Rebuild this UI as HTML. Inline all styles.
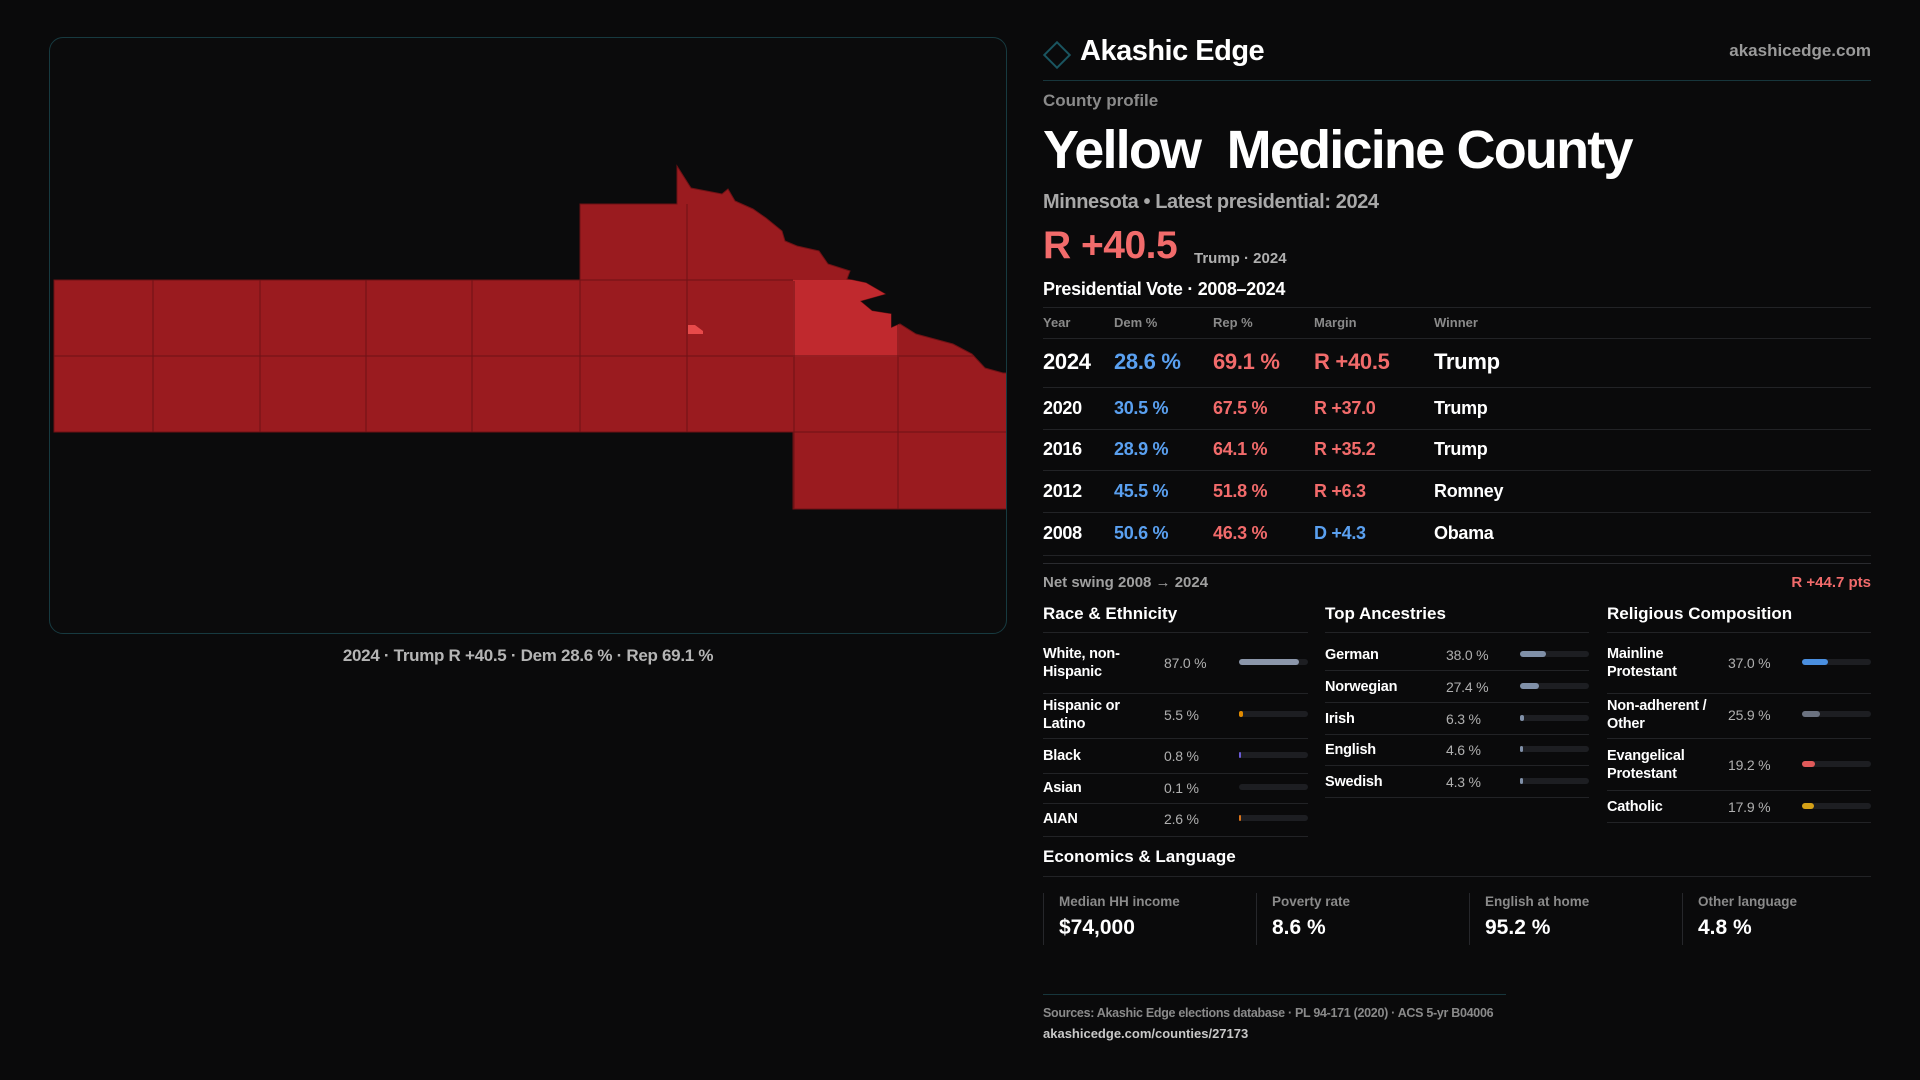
<!DOCTYPE html>
<html><head><meta charset="utf-8">
<style>
*{box-sizing:border-box;margin:0;padding:0}
body{width:1920px;height:1080px;background:#0a0a0b;font-family:"Liberation Sans",sans-serif;color:#fff;position:relative;overflow:hidden}
.abs{position:absolute;white-space:nowrap}
.map-panel{position:absolute;left:49px;top:37px;width:958px;height:597px;border:1px solid #173a40;border-radius:14px;background:#0b0b0c;overflow:hidden}
.hl{position:absolute;height:1px;background:#222326}
.gray{color:#8e8e8e}
.row-t{position:absolute;font-size:18px;font-weight:bold;letter-spacing:-0.3px}
.blue{color:#5aa0f0}.red{color:#f26b6b}
.lbl{position:absolute;font-size:14.5px;font-weight:bold;line-height:18px;letter-spacing:-0.2px}
.val{position:absolute;font-size:14px;color:#b0b0b0;letter-spacing:-0.2px}
.track{position:absolute;height:6px;border-radius:3px;background:#1d1e22}
.fill{position:absolute;left:0;top:0;height:6px;border-radius:3px}
.card{position:absolute;top:893px;height:52px;border-left:1px solid #26272b;width:212px}
</style></head><body>
<div class="map-panel">
<svg width="958" height="597" viewBox="49 37 958 597" style="position:absolute;left:0;top:0">
<defs><clipPath id="cp"><polygon points="53,279 579,279 579,203 676,203 676,165 690,187 721,193 727,188 734,200 752,208 765,217 781,230 784,240 796,245 818,250 827,263 849,270 846,278 865,282 884,293 859,300 871,310 890,313 890,327 899,323 915,333 952,343 971,353 984,367 1002,372 1006,372 1006,508 792,508 792,431 53,431"/></clipPath></defs>
<polygon fill="#9a1b1f" stroke="#6e1215" points="53,279 579,279 579,203 676,203 676,165 690,187 721,193 727,188 734,200 752,208 765,217 781,230 784,240 796,245 818,250 827,263 849,270 846,278 865,282 884,293 859,300 871,310 890,313 890,327 899,323 915,333 952,343 971,353 984,367 1002,372 1006,372 1006,508 792,508 792,431 53,431"/>
<g clip-path="url(#cp)">
<rect x="792" y="279" width="106" height="77" fill="#c0292e"/>
<path d="M152,279V431M259,279V431M365,279V431M471,279V431M579,279V431M686,203V431M793,280V508M897,280V508M53,355H1006M792,431H1006M579,279H792" fill="none" stroke="#6e1215"/>
</g>
<path d="M687,324 L694,324 L702,330 L702,333 L687,333Z" fill="#e84a4a"/>
</svg>
</div>
<div class="abs" style="left:528px;top:646px;transform:translateX(-50%);font-size:17px;font-weight:bold;color:#b5b5b5;letter-spacing:-0.3px">2024 · Trump R +40.5 · Dem 28.6 % · Rep 69.1 %</div>

<div class="abs" style="left:1047px;top:45px;width:20px;height:20px;border:2px solid #1a5560;transform:rotate(45deg)"></div>
<div class="abs" style="left:1080px;top:35px;font-size:29px;font-weight:bold;letter-spacing:-0.5px">Akashic Edge</div>
<div class="abs gray" style="right:49px;top:41px;font-size:17px;font-weight:bold;color:#9a9a9a">akashicedge.com</div>
<div class="hl" style="left:1043px;top:80px;width:828px;background:#17363c"></div>
<div class="abs gray" style="left:1043px;top:91px;font-size:17px;font-weight:bold;color:#8a8a8a">County profile</div>
<h1 class="abs" style="left:1043px;top:119px;font-size:54px;font-weight:bold;letter-spacing:-1.8px">Yellow&nbsp; Medicine County</h1>
<div class="abs" style="left:1043px;top:191px;font-size:20px;font-weight:bold;color:#a8a8a8;letter-spacing:-0.4px">Minnesota • Latest presidential: 2024</div>
<div class="abs red" style="left:1043px;top:224px;font-size:39px;font-weight:bold;letter-spacing:-0.5px">R +40.5</div>
<div class="abs" style="left:1194px;top:250px;font-size:15px;font-weight:bold;color:#b0b0b0">Trump · 2024</div>
<div class="abs" style="left:1043px;top:279px;font-size:18px;font-weight:bold;letter-spacing:-0.3px">Presidential Vote · 2008–2024</div>
<div class="hl" style="left:1043px;top:307px;width:828px"></div>
<div id="tbl"></div>
<div class="hl" style="left:1043px;top:563px;width:828px;background:#2a2b2f"></div>
<div class="abs" style="left:1043px;top:574px;font-size:15px;font-weight:bold;color:#a0a0a0">Net swing 2008 → 2024</div>
<div class="abs red" style="right:49px;top:574px;font-size:15px;font-weight:bold">R +44.7 pts</div>

<div class="abs" style="left:1043px;top:604px;font-size:17px;font-weight:bold">Race &amp; Ethnicity</div>
<div class="abs" style="left:1325px;top:604px;font-size:17px;font-weight:bold">Top Ancestries</div>
<div class="abs" style="left:1607px;top:604px;font-size:17px;font-weight:bold">Religious Composition</div>
<div class="hl" style="left:1043px;top:632px;width:265px"></div>
<div class="hl" style="left:1325px;top:632px;width:264px"></div>
<div class="hl" style="left:1607px;top:632px;width:264px"></div>
<div id="bars"></div>

<div class="abs" style="left:1043px;top:847px;font-size:17px;font-weight:bold">Economics &amp; Language</div>
<div class="hl" style="left:1043px;top:876px;width:828px"></div>
<div id="cards"></div>

<div class="hl" style="left:1043px;top:994px;width:463px;background:#17363c"></div>
<div class="abs" style="left:1043px;top:1006px;font-size:12.5px;font-weight:bold;color:#8a8a8a;letter-spacing:-0.3px">Sources: Akashic Edge elections database · PL 94-171 (2020) · ACS 5-yr B04006</div>
<div class="abs" style="left:1043px;top:1026px;font-size:13px;font-weight:bold;color:#c8c8c8">akashicedge.com/counties/27173</div>

<script>
const years=["2024","2020","2016","2012","2008"];
const demPct=[28.6,30.5,28.9,45.5,50.6];
const repPct=[69.1,67.5,64.1,51.8,46.3];
const winners=["Trump","Trump","Trump","Romney","Obama"];
const raceLabels=["White, non-<br>Hispanic","Hispanic or<br>Latino","Black","Asian","AIAN"];
const raceValues=[87.0,5.5,0.8,0.1,2.6];
const raceColors=["#8b96aa","#e08a00","#6b5bd6","#555","#d9731a"];
const ancLabels=["German","Norwegian","Irish","English","Swedish"];
const ancValues=[38.0,27.4,6.3,4.6,4.3];
const relLabels=["Mainline<br>Protestant","Non-adherent /<br>Other","Evangelical<br>Protestant","Catholic"];
const relValues=[37.0,25.9,19.2,17.9];
const relColors=["#4a8fe0","#6b7280","#e05a5a","#d4a017"];
const statLabels=["Median HH income","Poverty rate","English at home","Other language"];
const statValues=["$74,000","8.6 %","95.2 %","4.8 %"];

const tbl=document.getElementById('tbl');
function add(parent,cls,style,html){const d=document.createElement('div');d.className=cls;d.style.cssText=style;d.innerHTML=html;parent.appendChild(d);return d;}
const cols=[1043,1114,1213,1314,1434];
const hdr=["Year","Dem %","Rep %","Margin","Winner"];
hdr.forEach((h,i)=>{const e=add(tbl,'abs','left:'+cols[i]+'px;top:315px;font-size:13px;font-weight:bold;color:#8a8a8a',h);

});
add(tbl,'hl','left:1043px;top:338px;width:828px','');
const rowY=[362,409,450,492,534];
const lineY=[387,429,470,512,555];
years.forEach((y,i)=>{
 const big=i===0;const fs=big?'font-size:22px;':'';
 const top=rowY[i]-(big?13:11);
 const m=repPct[i]-demPct[i];
 const marg=(m>=0?'R +':'D +')+Math.abs(m).toFixed(1);
 const cells=[[y,''],[demPct[i].toFixed(1)+' %','blue'],[repPct[i].toFixed(1)+' %','red'],[marg,m>=0?'red':'blue'],[winners[i],'']];
 cells.forEach((c,j)=>{const e=add(tbl,'row-t '+c[1],'left:'+cols[j]+'px;top:'+top+'px;'+fs,c[0]);
 
 });
 add(tbl,'hl','left:1043px;top:'+lineY[i]+'px;width:828px','');
});

const bars=document.getElementById('bars');
function group(x,valX,barX,labels,values,colors,ys,lines,name){
 labels.forEach((l,i)=>{
  const two=l.indexOf('<br>')>=0;
  const a=add(bars,'lbl','left:'+x+'px;top:'+(ys[i]-(two?17:8))+'px',l);
  
  
  const v=add(bars,'val','left:'+valX+'px;top:'+(ys[i]-7)+'px',values[i].toFixed(1)+' %');
  
  
  const t=add(bars,'track','left:'+barX+'px;top:'+(ys[i]-3)+'px;width:69px','');
  
  
  const f=document.createElement('div');f.className='fill';
  f.style.width=Math.max(1.5,69*values[i]/100)+'px';f.style.background=colors[i];
  if(values[i]<0.5)f.style.width='0px';
  t.appendChild(f);
  add(bars,'hl','left:'+x+'px;top:'+lines[i]+'px;width:'+(barX+69-x)+'px','');
 });
}
group(1043,1164,1239,raceLabels,raceValues,raceColors,[662,714,755,787,818],[693,738,773,803,836],'race');
group(1325,1446,1520,ancLabels,ancValues,["#8090a8","#8090a8","#8090a8","#8090a8","#8090a8"],[654,686,718,749,781],[670,702,734,765,797],'ancestry');
group(1607,1728,1802,relLabels,relValues,relColors,[662,714,764,806],[693,738,790,822],'religion');

const cards=document.getElementById('cards');
const cardX=[1043,1256,1469,1682];
statLabels.forEach((l,i)=>{
 const c=add(cards,'card','left:'+cardX[i]+'px','');
 
 
 add(c,'abs','left:15px;top:1px;font-size:13.5px;font-weight:bold;color:#8a8a8a',l);
 add(c,'abs','left:15px;top:23px;font-size:21px;font-weight:bold',statValues[i]);
});
</script>
</body></html>
